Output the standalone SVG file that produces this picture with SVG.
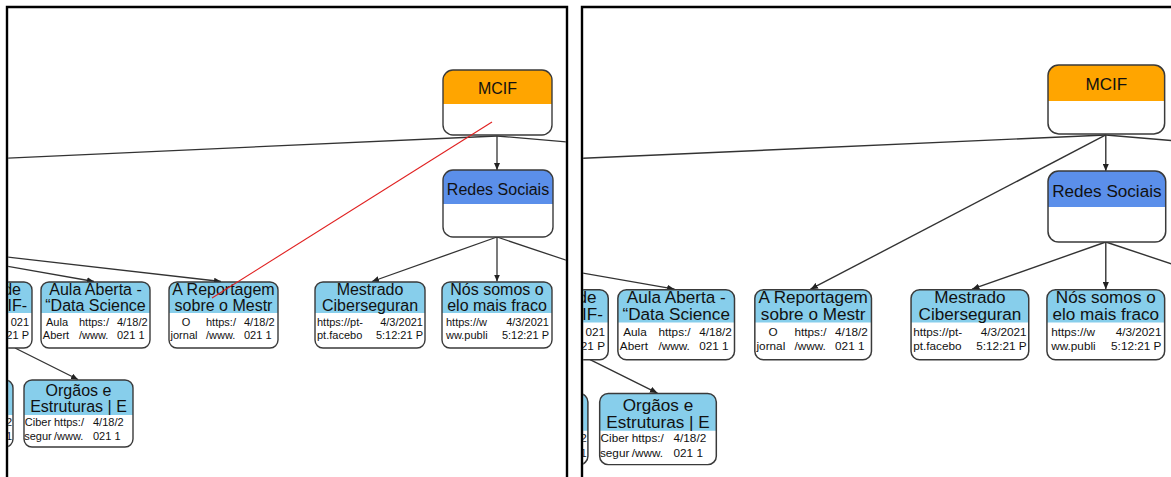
<svg xmlns="http://www.w3.org/2000/svg" width="1171" height="477" viewBox="0 0 1171 477">
<style>
.frame{fill:none;stroke:#000;stroke-width:2.4}
.box{fill:#fff}
.ol{fill:none;stroke:#3a3a3a;stroke-width:1.4}
.ho{fill:#FFA500}
.hb{fill:#5B8FEA}
.hl{fill:#87CEEB}
.t{font-family:"Liberation Sans",Arial,sans-serif;font-size:16px;fill:#111;text-anchor:middle}
.s{font-family:"Liberation Sans",Arial,sans-serif;font-size:11px;fill:#111}
.e{text-anchor:end}
.m{text-anchor:middle}
.c{fill:none;stroke:#333;stroke-width:1.3}
.a{marker-end:url(#arr)}
.red{fill:none;stroke:#e02020;stroke-width:1.1}
</style>
<defs>
<marker id="arr" markerWidth="7" markerHeight="6" refX="7" refY="3" orient="auto" markerUnits="userSpaceOnUse"><path d="M0,0 L7,3 L0,6 z" fill="#222"/></marker>
<clipPath id="clipL"><rect x="8.2" y="8.2" width="557.6" height="470"/></clipPath>
<clipPath id="clipR"><rect x="583.2" y="8.2" width="600" height="470"/></clipPath>
</defs>
<rect width="1171" height="477" fill="#fff"/>

<!-- LEFT PANEL -->
<g clip-path="url(#clipL)">
<g id="l-connectors">
<path class="c" d="M497,136 L0,158.4"/>
<path class="c" d="M497,136 L640,148.3"/>
<path class="c a" d="M497,136 V170"/>
<path class="c a" d="M0,264.9 L94,281.5"/>
<path class="c a" d="M0,256.2 L221,281.5"/>
<path class="c a" d="M497,237 L372,281.5"/>
<path class="c a" d="M497,237 V281.5"/>
<path class="c" d="M497,237 L640,285"/>
<path class="c a" d="M15,348 L78,379.5"/>
</g>
<g id="l-mcif">
<rect class="box" x="443" y="70" width="109" height="65" rx="10"/>
<path class="ho" d="M443,104 V80 A10,10 0 0 1 453,70 H542 A10,10 0 0 1 552,80 V104 Z"/>
<rect class="ol" x="443" y="70" width="109" height="65" rx="10"/>
<text class="t" x="497.5" y="94">MCIF</text>
</g>
<g id="l-redes">
<rect class="box" x="443" y="170" width="110" height="67" rx="10"/>
<path class="hb" d="M443,204 V180 A10,10 0 0 1 453,170 H543 A10,10 0 0 1 553,180 V204 Z"/>
<rect class="ol" x="443" y="170" width="110" height="67" rx="10"/>
<text class="t" x="498" y="195">Redes Sociais</text>
</g>
<g id="l-partial-a">
<rect class="box" x="-77" y="282" width="109" height="66" rx="8"/>
<path class="hl" d="M-77,313 V290 A8,8 0 0 1 -69,282 H24 A8,8 0 0 1 32,290 V313 Z"/>
<rect class="ol" x="-77" y="282" width="109" height="66" rx="8"/>
<text class="t e" x="21" y="295">de</text>
<text class="t e" x="27" y="311">IF-</text>
<text class="s e" x="29" y="326">021</text>
<text class="s e" x="29" y="339">21 P</text>
</g>
<g id="l-aula">
<rect class="box" x="41" y="282" width="109" height="66" rx="8"/>
<path class="hl" d="M41,313 V290 A8,8 0 0 1 49,282 H142 A8,8 0 0 1 150,290 V313 Z"/>
<rect class="ol" x="41" y="282" width="109" height="66" rx="8"/>
<text class="t" x="95.5" y="295">Aula Aberta -</text>
<text class="t" x="95.5" y="311">“Data Science</text>
<text class="s m" x="57" y="326">Aula</text>
<text class="s m" x="56" y="339">Abert</text>
<text class="s" x="79" y="326">https:/</text>
<text class="s" x="79" y="339">/www.</text>
<text class="s" x="117" y="326">4/18/2</text>
<text class="s" x="117" y="339">021 1</text>
</g>
<g id="l-reportagem">
<rect class="box" x="169" y="282" width="109" height="66" rx="8"/>
<path class="hl" d="M169,313 V290 A8,8 0 0 1 177,282 H270 A8,8 0 0 1 278,290 V313 Z"/>
<rect class="ol" x="169" y="282" width="109" height="66" rx="8"/>
<text class="t" x="223.5" y="295">A Reportagem</text>
<text class="t" x="223.5" y="311">sobre o Mestr</text>
<text class="s m" x="186" y="326">O</text>
<text class="s m" x="184" y="339">jornal</text>
<text class="s" x="206" y="326">https:/</text>
<text class="s" x="206" y="339">/www.</text>
<text class="s" x="244" y="326">4/18/2</text>
<text class="s" x="244" y="339">021 1</text>
</g>
<g id="l-mestrado">
<rect class="box" x="315" y="282" width="110" height="66" rx="8"/>
<path class="hl" d="M315,313 V290 A8,8 0 0 1 323,282 H417 A8,8 0 0 1 425,290 V313 Z"/>
<rect class="ol" x="315" y="282" width="110" height="66" rx="8"/>
<text class="t" x="370" y="295">Mestrado</text>
<text class="t" x="370" y="311">Ciberseguran</text>
<text class="s" x="317" y="326">https://pt-</text>
<text class="s" x="317" y="339">pt.facebo</text>
<text class="s e" x="423" y="326">4/3/2021</text>
<text class="s e" x="423" y="339">5:12:21 P</text>
</g>
<g id="l-nos">
<rect class="box" x="442" y="282" width="110" height="66" rx="8"/>
<path class="hl" d="M442,313 V290 A8,8 0 0 1 450,282 H544 A8,8 0 0 1 552,290 V313 Z"/>
<rect class="ol" x="442" y="282" width="110" height="66" rx="8"/>
<text class="t" x="497" y="295">Nós somos o</text>
<text class="t" x="497" y="311">elo mais fraco</text>
<text class="s" x="446" y="326">https://w</text>
<text class="s" x="446" y="339">ww.publi</text>
<text class="s e" x="549" y="326">4/3/2021</text>
<text class="s e" x="549" y="339">5:12:21 P</text>
</g>
<g id="l-partial-b">
<rect class="box" x="-96" y="380" width="109" height="67" rx="8"/>
<path class="hl" d="M-96,415 V388 A8,8 0 0 1 -88,380 H5 A8,8 0 0 1 13,388 V415 Z"/>
<rect class="ol" x="-96" y="380" width="109" height="67" rx="8"/>
<text class="s e" x="12" y="426">2</text>
<text class="s e" x="12" y="440">1</text>
</g>
<g id="l-orgaos">
<rect class="box" x="24" y="380" width="109" height="67" rx="8"/>
<path class="hl" d="M24,415 V388 A8,8 0 0 1 32,380 H125 A8,8 0 0 1 133,388 V415 Z"/>
<rect class="ol" x="24" y="380" width="109" height="67" rx="8"/>
<text class="t" x="78.5" y="396">Orgãos e</text>
<text class="t" x="78.5" y="412">Estruturas | E</text>
<text class="s m" x="38" y="426">Ciber</text>
<text class="s m" x="38" y="440">segur</text>
<text class="s" x="54" y="426">https:/</text>
<text class="s" x="54" y="440">/www.</text>
<text class="s" x="93" y="426">4/18/2</text>
<text class="s" x="93" y="440">021 1</text>
</g>
<g id="l-drag">
<path class="red" d="M492,122 L212,298"/>
</g>
</g>

<!-- RIGHT PANEL -->
<g clip-path="url(#clipR)">
<g transform="translate(574,-9.2) scale(1.07,1.06)">
<g id="r-connectors">
<path class="c" d="M497,136 L0,158.4"/>
<path class="c" d="M497,136 L640,148.3"/>
<path class="c a" d="M497,136 V170"/>
<path class="c a" d="M497,136 L221,281.5"/>
<path class="c a" d="M0,264.9 L94,281.5"/>
<path class="c a" d="M497,237 L372,281.5"/>
<path class="c a" d="M497,237 V281.5"/>
<path class="c" d="M497,237 L640,285"/>
<path class="c a" d="M15,348 L78,379.5"/>
</g>
<g id="r-mcif">
<rect class="box" x="443" y="70" width="109" height="65" rx="10"/>
<path class="ho" d="M443,104 V80 A10,10 0 0 1 453,70 H542 A10,10 0 0 1 552,80 V104 Z"/>
<rect class="ol" x="443" y="70" width="109" height="65" rx="10"/>
<text class="t" x="497.5" y="94">MCIF</text>
</g>
<g id="r-redes">
<rect class="box" x="443" y="170" width="110" height="67" rx="10"/>
<path class="hb" d="M443,204 V180 A10,10 0 0 1 453,170 H543 A10,10 0 0 1 553,180 V204 Z"/>
<rect class="ol" x="443" y="170" width="110" height="67" rx="10"/>
<text class="t" x="498" y="195">Redes Sociais</text>
</g>
<g id="r-partial-a">
<rect class="box" x="-77" y="282" width="109" height="66" rx="8"/>
<path class="hl" d="M-77,313 V290 A8,8 0 0 1 -69,282 H24 A8,8 0 0 1 32,290 V313 Z"/>
<rect class="ol" x="-77" y="282" width="109" height="66" rx="8"/>
<text class="t e" x="21" y="295">de</text>
<text class="t e" x="27" y="311">IF-</text>
<text class="s e" x="29" y="326">021</text>
<text class="s e" x="29" y="339">21 P</text>
</g>
<g id="r-aula">
<rect class="box" x="41" y="282" width="109" height="66" rx="8"/>
<path class="hl" d="M41,313 V290 A8,8 0 0 1 49,282 H142 A8,8 0 0 1 150,290 V313 Z"/>
<rect class="ol" x="41" y="282" width="109" height="66" rx="8"/>
<text class="t" x="95.5" y="295">Aula Aberta -</text>
<text class="t" x="95.5" y="311">“Data Science</text>
<text class="s m" x="57" y="326">Aula</text>
<text class="s m" x="56" y="339">Abert</text>
<text class="s" x="79" y="326">https:/</text>
<text class="s" x="79" y="339">/www.</text>
<text class="s" x="117" y="326">4/18/2</text>
<text class="s" x="117" y="339">021 1</text>
</g>
<g id="r-reportagem">
<rect class="box" x="169" y="282" width="109" height="66" rx="8"/>
<path class="hl" d="M169,313 V290 A8,8 0 0 1 177,282 H270 A8,8 0 0 1 278,290 V313 Z"/>
<rect class="ol" x="169" y="282" width="109" height="66" rx="8"/>
<text class="t" x="223.5" y="295">A Reportagem</text>
<text class="t" x="223.5" y="311">sobre o Mestr</text>
<text class="s m" x="186" y="326">O</text>
<text class="s m" x="184" y="339">jornal</text>
<text class="s" x="206" y="326">https:/</text>
<text class="s" x="206" y="339">/www.</text>
<text class="s" x="244" y="326">4/18/2</text>
<text class="s" x="244" y="339">021 1</text>
</g>
<g id="r-mestrado">
<rect class="box" x="315" y="282" width="110" height="66" rx="8"/>
<path class="hl" d="M315,313 V290 A8,8 0 0 1 323,282 H417 A8,8 0 0 1 425,290 V313 Z"/>
<rect class="ol" x="315" y="282" width="110" height="66" rx="8"/>
<text class="t" x="370" y="295">Mestrado</text>
<text class="t" x="370" y="311">Ciberseguran</text>
<text class="s" x="317" y="326">https://pt-</text>
<text class="s" x="317" y="339">pt.facebo</text>
<text class="s e" x="423" y="326">4/3/2021</text>
<text class="s e" x="423" y="339">5:12:21 P</text>
</g>
<g id="r-nos">
<rect class="box" x="442" y="282" width="110" height="66" rx="8"/>
<path class="hl" d="M442,313 V290 A8,8 0 0 1 450,282 H544 A8,8 0 0 1 552,290 V313 Z"/>
<rect class="ol" x="442" y="282" width="110" height="66" rx="8"/>
<text class="t" x="497" y="295">Nós somos o</text>
<text class="t" x="497" y="311">elo mais fraco</text>
<text class="s" x="446" y="326">https://w</text>
<text class="s" x="446" y="339">ww.publi</text>
<text class="s e" x="549" y="326">4/3/2021</text>
<text class="s e" x="549" y="339">5:12:21 P</text>
</g>
<g id="r-partial-b">
<rect class="box" x="-96" y="380" width="109" height="67" rx="8"/>
<path class="hl" d="M-96,415 V388 A8,8 0 0 1 -88,380 H5 A8,8 0 0 1 13,388 V415 Z"/>
<rect class="ol" x="-96" y="380" width="109" height="67" rx="8"/>
<text class="s e" x="12" y="426">2</text>
<text class="s e" x="12" y="440">1</text>
</g>
<g id="r-orgaos">
<rect class="box" x="24" y="380" width="109" height="67" rx="8"/>
<path class="hl" d="M24,415 V388 A8,8 0 0 1 32,380 H125 A8,8 0 0 1 133,388 V415 Z"/>
<rect class="ol" x="24" y="380" width="109" height="67" rx="8"/>
<text class="t" x="78.5" y="396">Orgãos e</text>
<text class="t" x="78.5" y="412">Estruturas | E</text>
<text class="s m" x="38" y="426">Ciber</text>
<text class="s m" x="38" y="440">segur</text>
<text class="s" x="54" y="426">https:/</text>
<text class="s" x="54" y="440">/www.</text>
<text class="s" x="93" y="426">4/18/2</text>
<text class="s" x="93" y="440">021 1</text>
</g>
</g>
</g>

<path class="frame" d="M7,480 V7 H567 V480"/>
<path class="frame" d="M582,480 V7 H1180"/>
</svg>
